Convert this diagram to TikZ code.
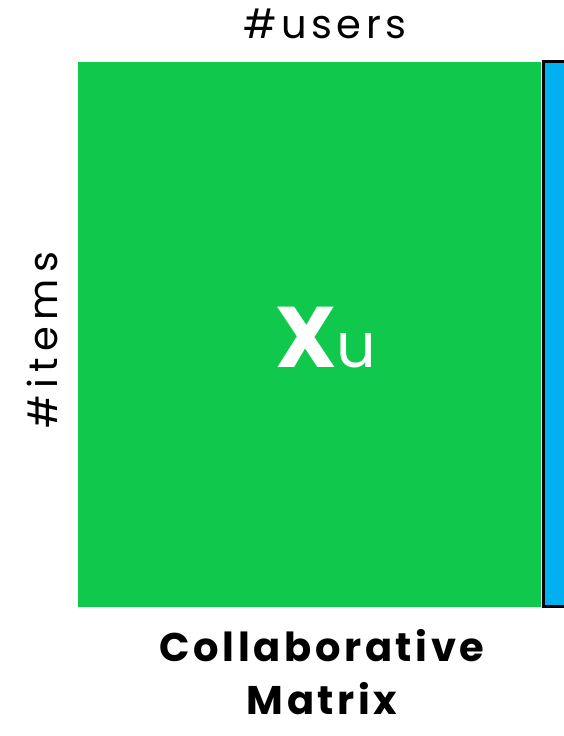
\documentclass[tikz,border=0pt]{standalone}
\usepackage{fontspec}
\setmainfont{Poppins}
\definecolor{matgreen}{RGB}{16,200,76}
\definecolor{sideblue}{RGB}{0,176,240}
\begin{document}
\begin{tikzpicture}[x=1pt,y=-1pt,
  lbl/.style={inner sep=0pt, font=\fontsize{40}{44}\selectfont\addfontfeature{LetterSpace=#1}},
  title/.style={inner sep=0pt, align=center, font=\fontsize{40}{53}\selectfont\bfseries\addfontfeature{LetterSpace=9}}]
\useasboundingbox (0,0) rectangle (563,736);
\node[fill=matgreen, inner sep=0pt, minimum width=463pt, minimum height=545pt, anchor=north west] (mat) at (78,62) {};
\node[fill=sideblue, draw=black, line width=3pt, inner sep=0pt, minimum width=80pt, minimum height=545pt, anchor=north west] (side) at (541.5,59.5) {};
\node[inner sep=0pt, text=white, anchor=base] (xu) at (326,367) {\fontsize{86}{86}\selectfont\bfseries X\fontsize{62}{62}\selectfont\mdseries u};
\node[lbl=11, anchor=base] (users) at (325,38) {\#users};
\node[lbl=16, rotate=90, anchor=base] (items) at (57,340) {\#items};
\node[title, anchor=base] (cap) at (322,714) {Collaborative\\Matrix};
\end{tikzpicture}
\end{document}
